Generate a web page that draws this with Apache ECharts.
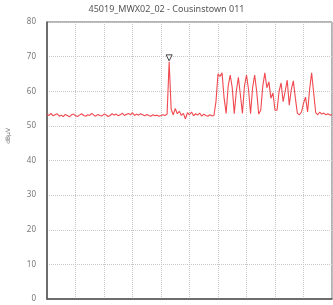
<!DOCTYPE html>
<html>
<head>
<meta charset="utf-8">
<script src="https://cdn.jsdelivr.net/npm/echarts@6/dist/echarts.min.js"></script>
<style>
  html, body { margin: 0; padding: 0; background: #fff; }
  #chart { width: 333px; height: 305px; }
</style>
</head>
<body>
<div id="chart"></div>
<script>
// sweep samples, dBuV
var levels = [
  53.4,53.0,53.6,52.9,53.2,53.5,52.8,53.1,52.7,53.3,53.0,52.6,53.2,53.4,52.9,52.7,53.1,53.5,53.0,52.8,
  53.2,53.0,53.6,53.1,52.8,53.3,53.0,52.9,53.4,53.2,52.7,53.0,53.5,53.1,53.4,52.9,53.2,53.7,53.0,53.3,
  53.6,53.2,53.8,53.0,53.4,53.1,53.5,53.2,52.9,53.3,53.0,52.8,53.2,52.9,53.1,52.8,53.0,53.2,53.0,53.4,
  68.5,54.8,53.2,55.0,53.5,54.2,53.0,53.6,52.0,53.8,53.2,54.0,52.9,53.5,53.1,53.7,52.8,53.4,53.0,52.8,
  53.2,52.9,53.0,57.0,65.0,64.3,65.3,58.0,53.6,61.5,64.7,61.0,53.5,60.0,64.0,59.0,53.6,61.5,64.7,60.5,
  53.5,61.0,64.7,60.0,53.4,54.5,61.5,65.3,61.0,62.7,58.0,59.5,54.5,54.5,60.0,62.4,57.0,60.0,63.2,56.0,
  60.5,63.0,58.0,53.6,53.2,54.0,56.5,58.3,54.0,60.5,65.3,59.5,53.8,53.2,54.0,53.4,53.7,53.2,53.5,53.1,
  53.3
];
var peakIndex = 60;
var yTicks = [0, 10, 20, 30, 40, 50, 60, 70, 80];
var titleText = '45019_MWX02_02 - Cousinstown 011';
var yName = 'dBµV';

var points = levels.map(function (v, i) { return [i, v]; });
var n = levels.length - 1;

echarts.init(document.getElementById('chart')).setOption({
  animation: false,
  title: {
    text: titleText,
    left: 'center',
    top: 0,
    textStyle: { fontSize: 9, fontWeight: 'normal', color: '#555', fontFamily: 'Noto Sans' }
  },
  graphic: [{
    type: 'text',
    left: 5,
    top: 128,
    rotation: Math.PI / 2,
    style: { text: yName, fontSize: 6, fill: '#777', fontFamily: 'DejaVu Sans' }
  }],
  grid: {
    left: 47, right: 1, top: 22, bottom: 6,
    show: true, borderColor: '#666', borderWidth: 1
  },
  xAxis: {
    type: 'value',
    min: 0, max: n, interval: n / 10,
    axisLabel: { show: false },
    axisTick: { show: false },
    axisLine: { show: true, lineStyle: { color: '#555', width: 1.5 } },
    splitLine: { show: true, lineStyle: { type: 'dotted', color: '#c8c8c8' } }
  },
  yAxis: {
    type: 'value',
    min: yTicks[0], max: yTicks[yTicks.length - 1], interval: 10,
    axisLabel: { color: '#777', fontSize: 8, margin: 11, fontFamily: 'Noto Sans' },
    axisTick: { show: false },
    axisLine: { show: true, lineStyle: { color: '#555', width: 1.5 } },
    splitLine: { show: true, lineStyle: { type: 'dotted', color: '#c8c8c8' } }
  },
  series: [{
    type: 'line',
    data: points,
    showSymbol: false,
    lineStyle: { color: '#f0494f', width: 1.1 },
    markPoint: {
      symbol: 'triangle',
      symbolSize: 6,
      symbolRotate: 180,
      symbolOffset: [0, -4],
      label: { show: false },
      itemStyle: { color: '#fff', borderColor: '#444', borderWidth: 1 },
      data: [{ coord: [peakIndex, levels[peakIndex]] }]
    }
  }]
});
</script>
</body>
</html>
